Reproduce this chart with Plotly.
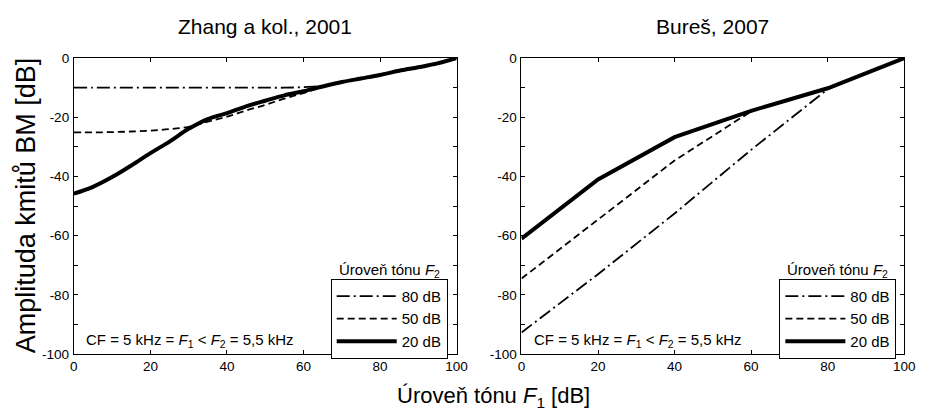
import plotly.graph_objects as go

# ---- data ----
x_zhang = [0, 5, 10, 15, 20, 25, 30, 35, 40, 45, 50, 55, 60, 65, 70, 75, 80, 85, 90, 95, 100]
zhang_80 = [-10, -10, -10, -10, -10, -10, -10, -10, -10, -10, -10, -10, -9.8, -9.4, -8.0, -6.7, -5.5, -4.1, -2.9, -1.7, 0]
zhang_50 = [-25.1, -25.1, -25.0, -24.8, -24.5, -24.0, -23.2, -21.5, -19.8, -17.7, -15.8, -13.7, -11.8, -9.8, -8.1, -6.9, -5.7, -4.3, -3.1, -1.8, 0]
zhang_20 = [-45.8, -43.5, -40.2, -36.3, -32.1, -28.2, -23.9, -20.6, -18.6, -16.3, -14.4, -12.6, -11.2, -9.6, -8.1, -6.9, -5.7, -4.3, -3.1, -1.8, 0]

x_bures = [0, 20, 40, 60, 80, 100]
bures_80 = [-92.7, -73, -52.5, -31, -10.5, 0]
bures_50 = [-74.5, -54.5, -34.6, -18, -10.3, 0]
bures_20 = [-61, -41, -26.7, -17.8, -10.2, 0]

levels = ["80 dB", "50 dB", "20 dB"]
titles = ["Zhang a kol., 2001", "Bureš, 2007"]
y_ticks = [0, -10, -20, -30, -40, -50, -60, -70, -80, -90, -100]
x_ticks = [0, 20, 40, 60, 80, 100]

# ---- styling ----
W, H = 928, 418
FONT = "Liberation Sans, Arial, sans-serif"
styles = {
    "80 dB": dict(color="black", width=1.8, dash="13px,4px,2px,4px"),
    "50 dB": dict(color="black", width=1.8, dash="7px,4px"),
    "20 dB": dict(color="black", width=4),
}

def px_x(p):
    return p / W

def px_y(p):
    return 1 - p / H

fig = go.Figure()

panels = [
    ("x", "y", "legend", x_zhang, [zhang_80, zhang_50, zhang_20], "spline"),
    ("x2", "y2", "legend2", x_bures, [bures_80, bures_50, bures_20], "linear"),
]
for xa, ya, lg, xs, series, shape in panels:
    for name, ys in zip(levels, series):
        fig.add_trace(go.Scatter(
            x=xs, y=ys, mode="lines", name=name, line=dict(shape=shape, **styles[name]),
            xaxis=xa, yaxis=ya, legend=lg,
        ))

dom_y = [px_y(360), px_y(53)]
axis_common = dict(
    showline=True, linecolor="black", linewidth=1, mirror="ticks",
    ticks="inside", ticklen=4, tickcolor="black", tickwidth=1,
    showgrid=False, zeroline=False,
    tickfont=dict(family=FONT, size=13.5, color="black"),
)
ytext = [str(v) if v % 20 == 0 else "" for v in y_ticks]

fig.update_layout(
    width=W, height=H,
    margin=dict(l=0, r=0, t=0, b=0),
    paper_bgcolor="white", plot_bgcolor="white",
    font=dict(family=FONT, color="black"),
    xaxis=dict(domain=[px_x(71), px_x(460)], range=[0, 100], tickvals=x_ticks, anchor="y",
               ticklabelstandoff=0, **axis_common),
    yaxis=dict(domain=dom_y, range=[-100, 0], tickvals=y_ticks, ticktext=ytext, anchor="x",
               ticklabelstandoff=1, **axis_common),
    xaxis2=dict(domain=[px_x(526), px_x(915)], range=[0, 100], tickvals=x_ticks, anchor="y2",
                ticklabelstandoff=0, **axis_common),
    yaxis2=dict(domain=dom_y, range=[-100, 0], tickvals=y_ticks, ticktext=ytext, anchor="x2",
                ticklabelstandoff=1, **axis_common),
)

leg_common = dict(
    bgcolor="white", bordercolor="black", borderwidth=1,
    font=dict(family=FONT, size=15, color="black"),
    xanchor="right", yanchor="top", y=px_y(282),
    itemwidth=60, tracegroupgap=0, traceorder="normal",
)
fig.update_layout(
    legend=dict(x=px_x(451), **leg_common),
    legend2=dict(x=px_x(907), **leg_common),
)

ann = []
for i, t in enumerate(titles):
    cx = px_x((71 + 460) / 2) if i == 0 else px_x((526 + 915) / 2)
    ann.append(dict(text=t, x=cx, y=px_y(20), xref="paper", yref="paper",
                    xanchor="center", yanchor="middle",
                    showarrow=False, font=dict(family=FONT, size=21, color="black")))
for lx, rx in [(81, 445), (537, 901)]:
    ann.append(dict(text="CF = 5 kHz = <i>F</i><sub>1</sub> &lt; <i>F</i><sub>2</sub> = 5,5 kHz",
                    x=px_x(lx), y=px_y(346), xref="paper", yref="paper",
                    xanchor="left", yanchor="middle",
                    showarrow=False, font=dict(family=FONT, size=15, color="black")))
    ann.append(dict(text="Úroveň tónu <i>F</i><sub>2</sub>",
                    x=px_x(rx), y=px_y(273), xref="paper", yref="paper",
                    xanchor="right", yanchor="middle",
                    showarrow=False, font=dict(family=FONT, size=15, color="black")))
ann.append(dict(text="Amplituda kmitů BM [dB]", x=px_x(22), y=px_y(206), xref="paper", yref="paper",
                xanchor="center", yanchor="middle",
                textangle=-90, showarrow=False, font=dict(family=FONT, size=27, color="black")))
ann.append(dict(text="Úroveň tónu <i>F</i><sub>1</sub> [dB]", x=px_x(498), y=px_y(405), xref="paper", yref="paper",
                xanchor="center", yanchor="middle",
                showarrow=False, font=dict(family=FONT, size=22, color="black")))
fig.update_layout(annotations=ann)

fig.write_html("out.html")
